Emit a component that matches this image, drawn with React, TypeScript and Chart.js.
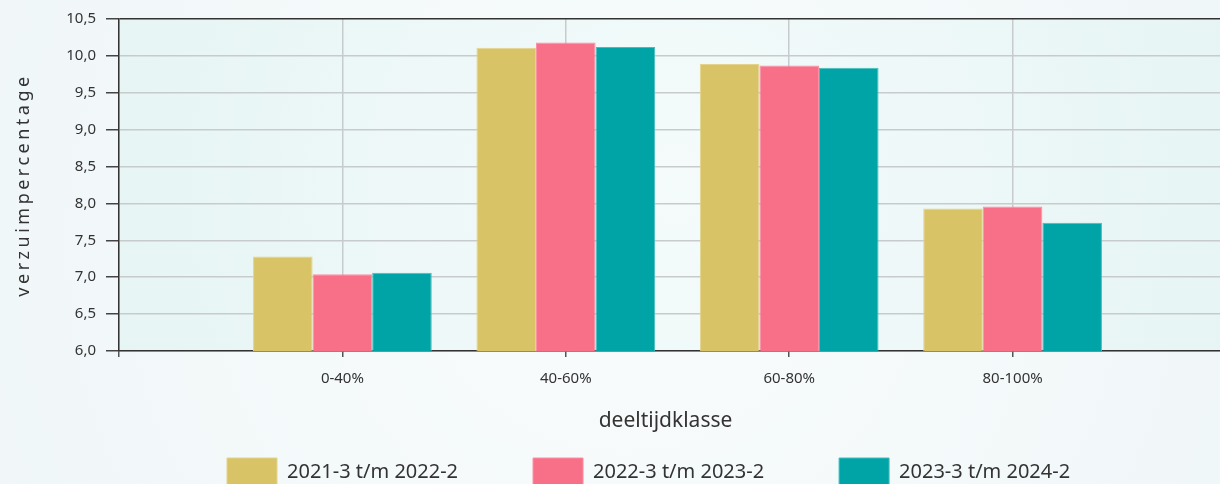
import React, { useEffect, useRef } from 'react';
import { Chart, registerables } from 'chart.js';

Chart.register(...registerables);

const categories = ['0-40%', '40-60%', '60-80%', '80-100%'];
const seriesNames = ['2021-3 t/m 2022-2', '2022-3 t/m 2023-2', '2023-3 t/m 2024-2'];
const values2021 = [7.28, 10.11, 9.89, 7.93];
const values2022 = [7.04, 10.18, 9.87, 7.96];
const values2023 = [7.06, 10.12, 9.84, 7.74];
const yMin = 6;
const yMax = 10.5;
const yStep = 0.5;
const xTitle = 'deeltijdklasse';
const yTitle = 'verzuimpercentage';

const FONT = "'Noto Sans', sans-serif";
const TEXT = '#333333';
const W = 1249;
const H = 484;
const LEGEND_PAD = 75;

export default function App() {
  const ref = useRef<HTMLCanvasElement>(null);

  useEffect(() => {
    const canvas = ref.current!;
    const labels = ['', ...categories, ''];
    const pad = (arr: number[]) => [null, ...arr, null];
    const colors = ['#d9c367', '#f86f88', '#00a4a7'];
    const borders = ['#e4d38c', '#fb90a4', '#45bdbf'];
    const series = [values2021, values2022, values2023];

    const decor = {
      id: 'decor',
      beforeDraw(chart: any) {
        const { ctx, chartArea: a, width, height } = chart;
        ctx.save();
        let g = ctx.createRadialGradient(width / 2, height / 2, 0, width / 2, height / 2, width * 0.6);
        g.addColorStop(0, '#f9fcfc');
        g.addColorStop(1, '#eff6f8');
        ctx.fillStyle = g;
        ctx.fillRect(0, 0, width, height);
        const cx = (a.left + a.right) / 2;
        const cy = (a.top + a.bottom) / 2;
        g = ctx.createRadialGradient(cx, cy, 0, cx, cy, (a.right - a.left) * 0.55);
        g.addColorStop(0, '#f5fbfb');
        g.addColorStop(1, '#e5f4f4');
        ctx.fillStyle = g;
        ctx.fillRect(a.left, a.top, a.right - a.left, a.bottom - a.top);
        ctx.restore();

        const lg = chart.legend;
        if (lg && lg.lineWidths) {
          const start = (lg.left + LEGEND_PAD + lg.right - lg.lineWidths[0]) / 2;
          const dx = 227 - start;
          lg.left += dx;
          lg.right += dx;
          lg.top = 458 - LEGEND_PAD;
        }
        const ys = chart.scales.y;
        if (ys && !ys._lsWrap) {
          const orig = ys.drawTitle.bind(ys);
          ys.drawTitle = () => {
            const c = ys.ctx;
            c.save();
            c.letterSpacing = '3.5px';
            orig();
            c.restore();
          };
          ys._lsWrap = true;
        }
        const xs = chart.scales.x;
        if (xs && !xs._shWrap) {
          const orig = xs.drawTitle.bind(xs);
          xs.drawTitle = () => {
            const c = xs.ctx;
            c.save();
            c.translate(-12, 0);
            orig();
            c.restore();
          };
          xs._shWrap = true;
        }
      },
    };

    const chart = new Chart(canvas, {
      type: 'bar',
      data: {
        labels,
        datasets: series.map((s, i) => ({
          label: seriesNames[i],
          data: pad(s),
          backgroundColor: colors[i],
          borderColor: borders[i],
          borderWidth: 1,
          categoryPercentage: 0.8,
          barPercentage: 1.0,
        })),
      },
      options: {
        responsive: false,
        animation: false,
        devicePixelRatio: 1,
        layout: { padding: { top: 18, right: 4, left: 0, bottom: 0 } },
        plugins: {
          legend: {
            position: 'bottom',
            maxHeight: 40,
            labels: {
              boxWidth: 50,
              boxHeight: 28,
              padding: LEGEND_PAD,
              color: TEXT,
              font: { family: FONT, size: 20 },
            },
          },
          tooltip: { enabled: false },
        },
        scales: {
          x: {
            type: 'category',
            offset: false,
            grid: { offset: false, color: '#c8cbcb', tickColor: '#555', tickLength: 6, lineWidth: 1.5 },
            border: { color: '#333', width: 1.5 },
            ticks: {
              padding: 13,
              color: TEXT,
              font: { family: FONT, size: 15 },
              maxRotation: 0,
              autoSkip: false,
            },
            title: {
              display: true,
              text: xTitle,
              color: TEXT,
              font: { family: FONT, size: 21 },
              padding: { top: 0, bottom: 10 },
            },
            afterFit: (s: any) => {
              s.height = 93;
            },
          },
          y: {
            min: yMin,
            max: yMax,
            ticks: {
              stepSize: yStep,
              padding: 10,
              color: TEXT,
              font: { family: FONT, size: 15 },
              callback: (v: any) => Number(v).toFixed(1).replace('.', ','),
            },
            grid: {
              color: (c: any) => (c.tick && c.tick.value === yMax ? '#333333' : '#c8cbcb'),
              tickColor: '#444',
              tickLength: 13,
              lineWidth: 1.5,
            },
            border: { color: '#333', width: 1.5 },
            title: {
              display: true,
              text: yTitle,
              color: TEXT,
              font: { family: FONT, size: 18 },
              padding: { top: 13, bottom: 0 },
            },
            afterFit: (s: any) => {
              s.width = 119;
            },
          },
        },
      } as any,
      plugins: [decor],
    });

    return () => chart.destroy();
  }, []);

  return (
    <div style={{ position: 'fixed', left: 0, top: 0, width: 1220, height: 484, overflow: 'hidden' }}>
      <canvas ref={ref} width={W} height={H} style={{ display: 'block' }} />
    </div>
  );
}
